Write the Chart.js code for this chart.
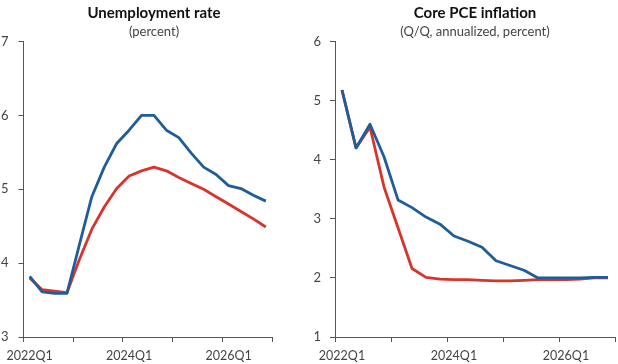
<!DOCTYPE html>
<html>
<head>
<meta charset="utf-8">
<script src="https://cdn.jsdelivr.net/npm/chart.js@4"></script>
<style>
  html, body { margin: 0; padding: 0; background: #fff; }
  #wrap { position: relative; width: 618px; height: 364px; }
  .panel { position: absolute; top: 0; height: 364px; }
  #left { left: 0; width: 308px; }
  #right { left: 308px; width: 310px; }
</style>
</head>
<body>
<div id="wrap">
  <div class="panel" id="left"><canvas id="unempChart"></canvas></div>
  <div class="panel" id="right"><canvas id="pceChart"></canvas></div>
</div>
<script>
// quarters 2022Q1 .. 2026Q4
const quarters = [];
for (let y = 2022; y <= 2026; y++) {
  for (let q = 1; q <= 4; q++) quarters.push(y + "Q" + q);
}

const unempBlue = [3.82, 3.61, 3.59, 3.59, 4.25, 4.9, 5.3, 5.62, 5.8, 6.0,
  6.0, 5.8, 5.7, 5.49, 5.3, 5.2, 5.05, 5.01, 4.92, 4.84];
const unempRed = [3.8, 3.64, 3.62, 3.6, 4.05, 4.46, 4.76, 5.01, 5.18, 5.25,
  5.3, 5.25, 5.16, 5.08, 5.0, 4.9, 4.8, 4.7, 4.6, 4.49];

const pceBlue = [5.18, 4.2, 4.6, 4.05, 3.32, 3.19, 3.03, 2.91, 2.71, 2.62,
  2.52, 2.29, 2.21, 2.13, 2.0, 2.0, 2.0, 2.0, 2.01, 2.01];
const pceRed = [5.18, 4.2, 4.55, 3.54, 2.85, 2.16, 2.01, 1.98, 1.97, 1.97,
  1.96, 1.95, 1.95, 1.96, 1.97, 1.97, 1.97, 1.98, 2.0, 2.0];

const BLUE = "#1f5c99";
const RED = "#d9342b";
const AXIS = "#555555";
const TEXT = "#444444";
const FONT = "Lato, 'Open Sans', sans-serif";

function lineSet(data, color, order) {
  return { data, order, borderColor: color, backgroundColor: color, borderWidth: 2.8,
    pointRadius: 0, tension: 0, borderJoinStyle: "round" };
}

function makeChart(id, opts) {
  const scales = {
    x: {
      type: "category",
      offset: true,
      afterFit: (s) => { s.height = 27; },
      border: { display: true, color: AXIS, width: 1 },
      grid: {
        offset: true, drawOnChartArea: false, drawTicks: true, tickLength: 5,
        // tick marks once a year, at the quarter boundaries
        tickColor: (ctx) => (ctx.index === undefined || ctx.index % 4 === 0) ? AXIS : "rgba(0,0,0,0)",
      },
      ticks: {
        autoSkip: false, maxRotation: 0, padding: 6, color: TEXT,
        font: { family: FONT, size: 12.5 },
        callback: (v, i) => (i % 8 === 0 ? quarters[i] : ""),
      },
    },
    y: {
      min: opts.min, max: opts.max,
      afterFit: (s) => { s.width = opts.yWidth; },
      border: { display: true, color: AXIS, width: 1 },
      grid: { drawOnChartArea: false, drawTicks: true, tickLength: 5, tickColor: AXIS },
      ticks: { stepSize: 1, padding: opts.yPad, color: TEXT, font: { family: FONT, size: 13 } },
    },
  };
  if (opts.spacer) {
    // empty right-hand axis, only keeps room so the title stays centred on the panel
    scales.spacer = {
      position: "right", display: true, min: 0, max: 1,
      afterFit: (s) => { s.width = opts.spacer; },
      border: { display: false }, grid: { display: false }, ticks: { display: false },
    };
  }
  return new Chart(document.getElementById(id), {
    type: "line",
    data: {
      labels: quarters,
      datasets: [lineSet(opts.blue, BLUE, 0), lineSet(opts.red, RED, 1)],
    },
    options: {
      responsive: false,
      animation: false,
      layout: { padding: { left: 0, right: opts.padRight, top: 0, bottom: 0 } },
      plugins: {
        legend: { display: false },
        tooltip: { enabled: false },
        title: {
          display: true, text: opts.title, color: "#111", fullSize: opts.fullSize,
          font: { family: FONT, size: 15, weight: "bold" },
          padding: { top: 4, bottom: 2 },
        },
        subtitle: {
          display: true, text: opts.subtitle, color: TEXT, fullSize: opts.fullSize,
          font: { family: FONT, size: 13 },
          padding: { top: 0, bottom: 2 },
        },
      },
      scales,
    },
  });
}

document.getElementById("unempChart").width = 308;
document.getElementById("unempChart").height = 364;
document.getElementById("pceChart").width = 310;
document.getElementById("pceChart").height = 364;

makeChart("unempChart", {
  title: "Unemployment rate", subtitle: "(percent)",
  blue: unempBlue, red: unempRed, min: 3, max: 7,
  yWidth: 23, yPad: 10, padRight: 0, spacer: 36, fullSize: true,
});

makeChart("pceChart", {
  title: "Core PCE inflation", subtitle: "(Q/Q, annualized, percent)",
  blue: pceBlue, red: pceRed, min: 1, max: 6,
  yWidth: 27, yPad: 9, padRight: 3, spacer: 0, fullSize: false,
});
</script>
</body>
</html>
